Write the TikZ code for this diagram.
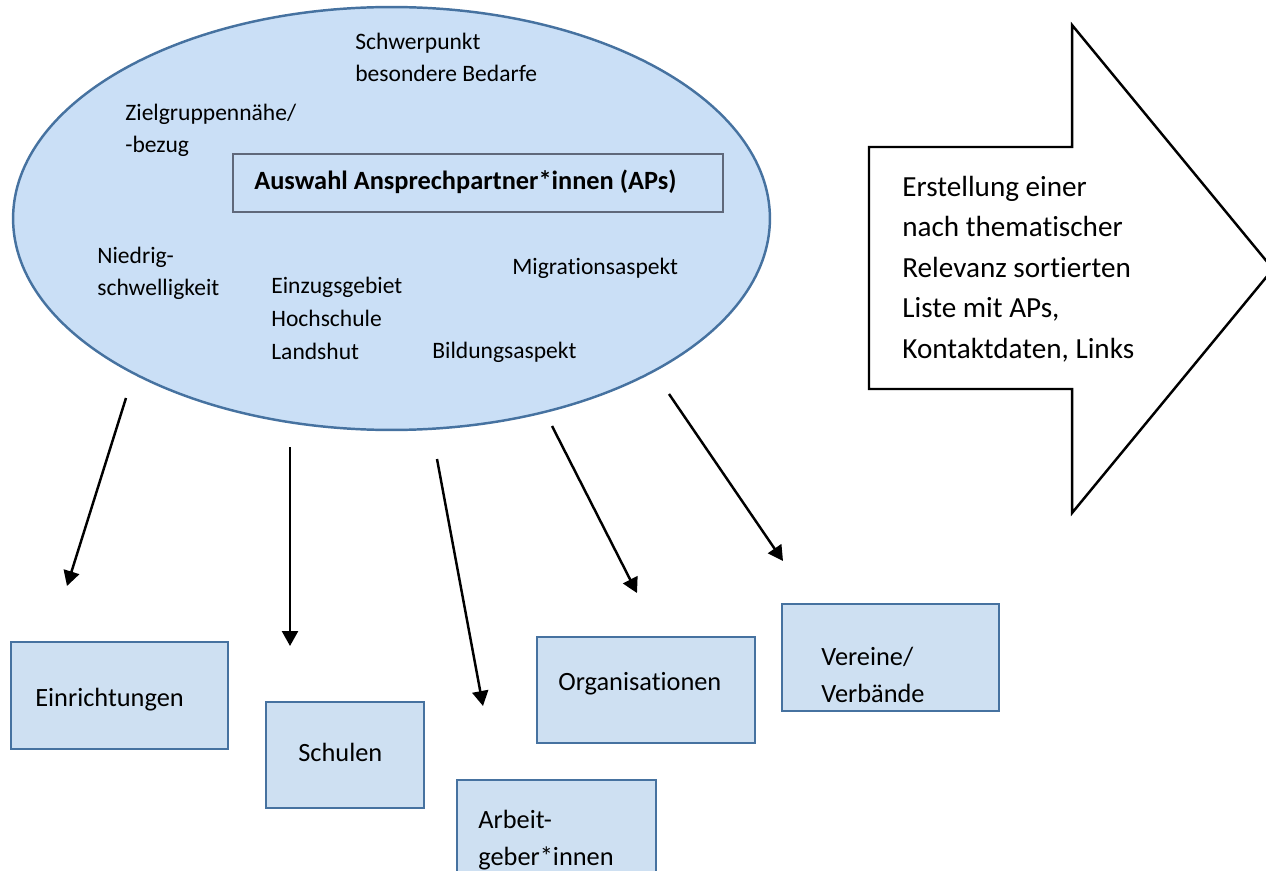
\documentclass[tikz,border=0pt]{standalone}
\usepackage{fontspec}
\setmainfont{Carlito}[Ligatures=NoCommon]
\usetikzlibrary{shapes.geometric, arrows.meta, positioning, fit}

\definecolor{ellblue}{RGB}{202,223,246}
\definecolor{boxblue}{RGB}{206,224,242}
\definecolor{edgeblue}{RGB}{70,114,160}
\definecolor{titlegray}{RGB}{95,104,122}

\begin{document}
\begin{tikzpicture}[
		x=0.02cm, y=-0.02cm,
		bubble/.style={ellipse, draw=edgeblue, line width=1.4pt, fill=ellblue, minimum width=15.14cm, minimum height=8.46cm, inner sep=0pt},
		titlebox/.style={draw=titlegray, line width=0.7pt, inner sep=0pt},
		crit/.style={inner sep=0pt, align=left, anchor=base west, font=\fontsize{13.4}{18.5}\selectfont},
		target/.style={draw=edgeblue, line width=1.4pt, fill=boxblue, inner sep=0pt},
		targettext/.style={inner sep=0pt, align=left, anchor=base west, font=\fontsize{15}{21}\selectfont},
		listtext/.style={inner sep=0pt, align=left, anchor=base west, font=\fontsize{16.6}{23}\selectfont},
		line/.style={draw, line width=1.4pt, -{Triangle[length=0.3cm, width=0.32cm]}}
	]
	\useasboundingbox (0,0) rectangle (1266,871);

	% Selection of contact persons
	\node [bubble] (ausw) at (391.5,218.5) {};
	\node [titlebox, fit={(233,154) (723,212)}] (titel) {};
	\node [crit, font=\fontsize{15}{21}\selectfont\bfseries] (titeltext) at (254,190) {Auswahl Ansprechpartner*innen (APs)};

	% Criteria
	\node [crit] (schwer) at (355,82) {Schwerpunkt\\besondere Bedarfe};
	\node [crit] (ziel) at (125,153) {Zielgruppennähe/\\-bezug};
	\node [crit] (niedrig) at (97,296) {Niedrig-\\schwelligkeit};
	\node [crit] (einzug) at (271,359) {Einzugsgebiet\\Hochschule\\Landshut};
	\node [crit] (migr) at (512,275) {Migrationsaspekt};
	\node [crit] (bild) at (432,358) {Bildungsaspekt};

	% Result arrow
	\draw [line width=1.4pt, fill=white] (869,147) -- (1072,147) -- (1072,25) -- (1273,269) -- (1072,513) -- (1072,389) -- (869,389) -- cycle;
	\node [listtext] (liste) at (902,358) {Erstellung einer\\nach thematischer\\Relevanz sortierten\\Liste mit APs,\\Kontaktdaten, Links};

	% Groups of contacts
	\node [target, fit={(11,642) (228,749)}] (einr) {};
	\node [targettext] (einrtext) at (35,706) {Einrichtungen};
	\node [target, fit={(266,702) (424,808)}] (schul) {};
	\node [targettext] (schultext) at (298,761) {Schulen};
	\node [target, fit={(457,780) (656,900)}] (arbeit) {};
	\node [targettext] (arbeittext) at (478,865) {Arbeit-\\geber*innen};
	\node [target, fit={(537,637) (755,743)}] (orga) {};
	\node [targettext] (orgatext) at (558,690) {Organisationen};
	\node [target, fit={(782,604) (999,711)}] (verein) {};
	\node [targettext] (vereintext) at (821,702) {Vereine/\\Verbände};

	% Arrow ends
	\coordinate (s1) at (126,398);
	\coordinate (t1) at (67,586);
	\coordinate (s2) at (290,447);
	\coordinate (t2) at (290,646);
	\coordinate (s3) at (437,459);
	\coordinate (t3) at (483,706);
	\coordinate (s4) at (552,426);
	\coordinate (t4) at (637,593);
	\coordinate (s5) at (669,394);
	\coordinate (t5) at (783,561);

	% Edges
	\path [line] (s1) -- (t1);
	\path [line] (s2) -- (t2);
	\path [line] (s3) -- (t3);
	\path [line] (s4) -- (t4);
	\path [line] (s5) -- (t5);

\end{tikzpicture}
\end{document}
